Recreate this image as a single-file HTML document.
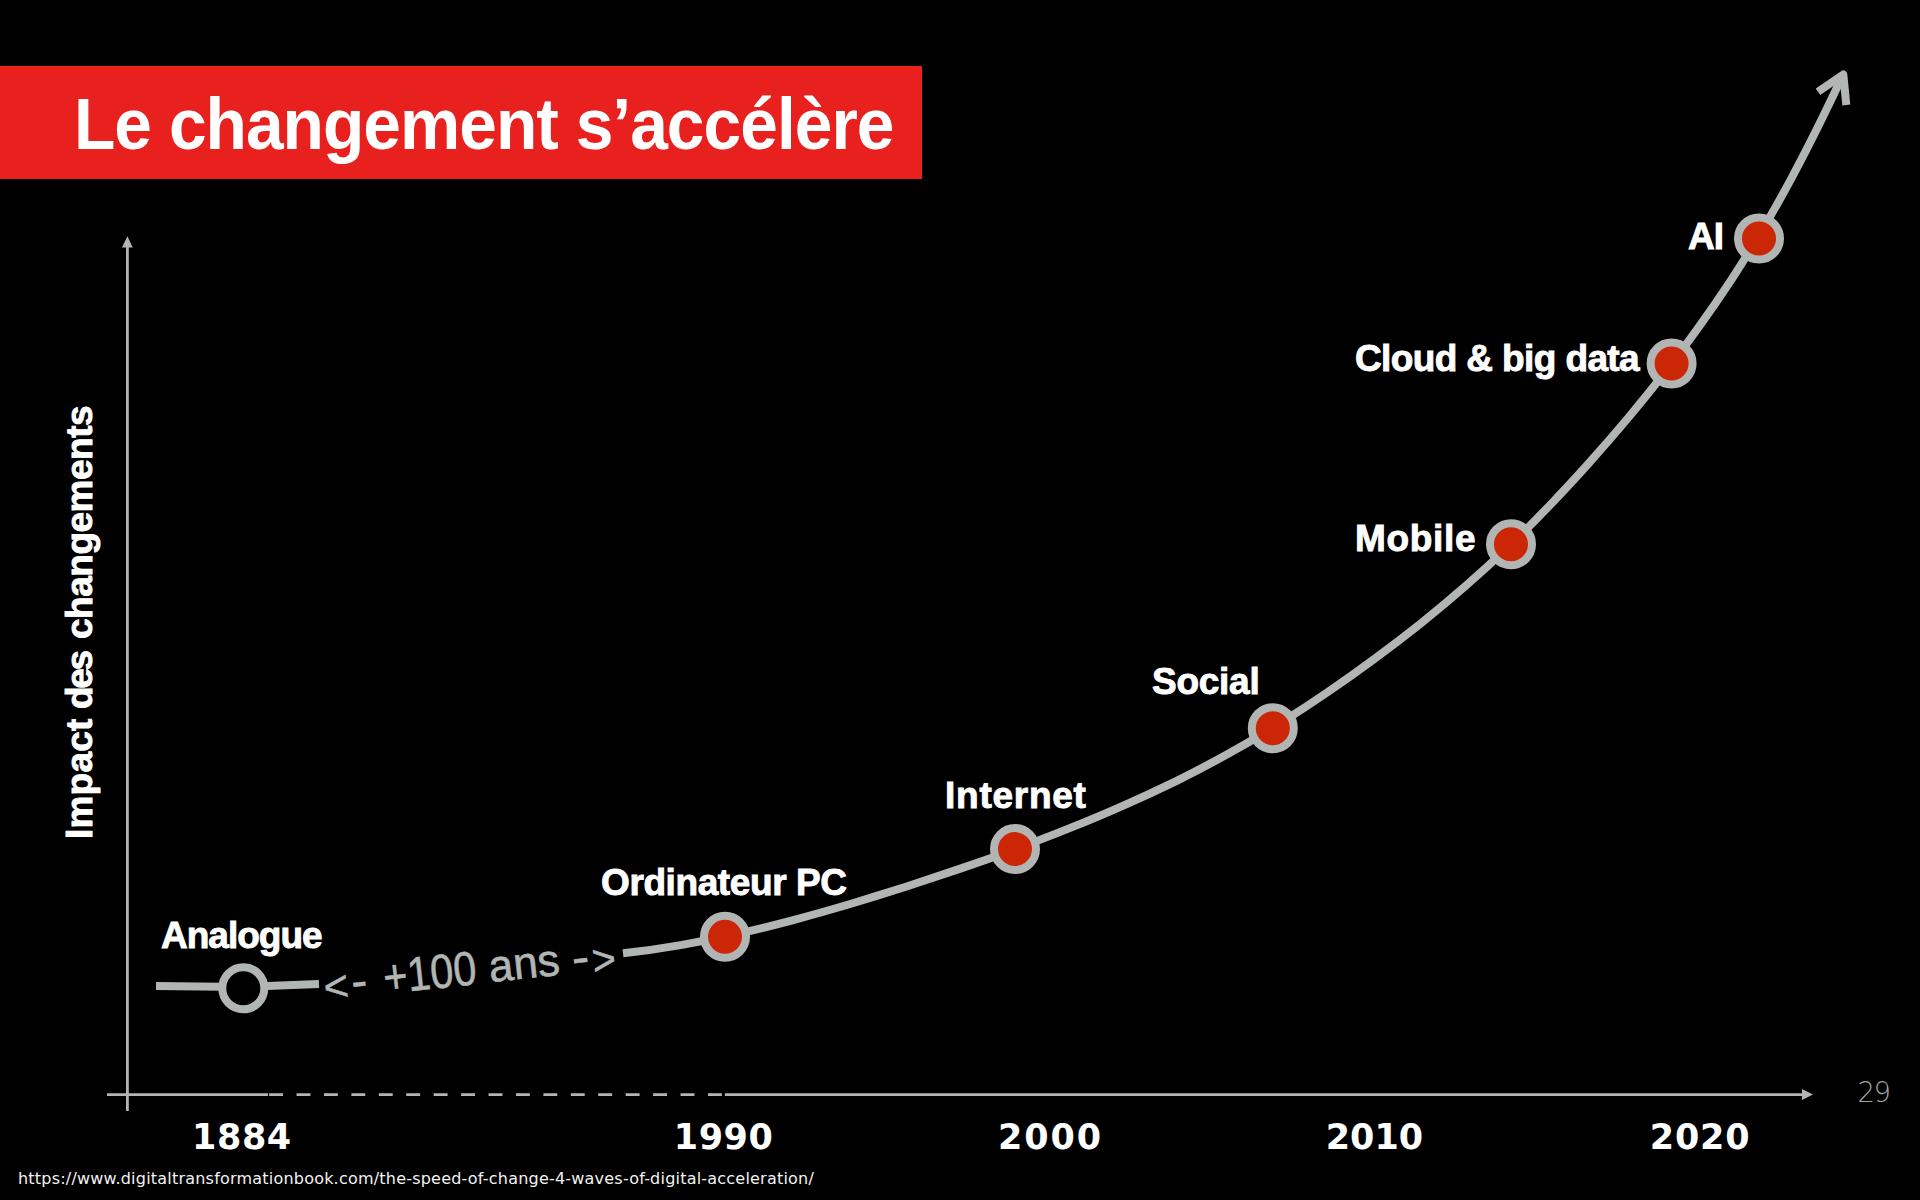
<!DOCTYPE html>
<html lang="fr">
<head>
<meta charset="utf-8">
<title>Le changement s’accélère</title>
<style>
html,body{margin:0;padding:0;background:#000;}
body{width:1920px;height:1200px;position:relative;overflow:hidden;font-family:"Liberation Sans",sans-serif;color:#fff;}
.banner{position:absolute;left:0;top:66px;width:922px;height:113px;background:#e8211f;}
.title{position:absolute;left:74px;top:84px;font-weight:bold;font-size:72px;line-height:80px;white-space:nowrap;letter-spacing:-1.03px;color:#fff;transform-origin:0 0;transform:scaleX(0.94);}
svg{position:absolute;left:0;top:0;}
.lbl{position:absolute;font-weight:bold;font-size:37px;line-height:40px;white-space:nowrap;color:#fff;-webkit-text-stroke:0.9px #fff;}
.yr{position:absolute;font-family:"DejaVu Sans","Liberation Sans",sans-serif;font-weight:bold;font-size:35px;line-height:40px;white-space:nowrap;color:#fff;}
.ylab{position:absolute;font-weight:bold;font-size:37px;line-height:40px;white-space:nowrap;color:#fff;-webkit-text-stroke:0.9px #fff;transform-origin:0 0;transform:rotate(-90deg);}
.url{position:absolute;left:18px;top:1168px;font-family:"DejaVu Sans","Liberation Sans",sans-serif;font-size:16px;line-height:22px;white-space:nowrap;color:#f2f2f2;letter-spacing:0.21px;}
.pn{position:absolute;left:1857.5px;top:1074.5px;font-family:"DejaVu Sans","Liberation Sans",sans-serif;font-weight:200;font-size:27.5px;line-height:34px;letter-spacing:-1.5px;color:#a4a4a4;white-space:nowrap;}
</style>
</head>
<body>
<div class="banner"></div>
<div class="title">Le changement s’accélère</div>
<svg width="1920" height="1200" viewBox="0 0 1920 1200">
  <line x1="127.4" y1="246" x2="127.4" y2="1111" stroke="#b4b4b4" stroke-width="2.8"/>
  <polygon points="127.4,236.2 122,247.5 132.8,247.5" fill="#b4b4b4"/>
  <line x1="107" y1="1094.6" x2="268" y2="1094.6" stroke="#b4b4b4" stroke-width="2.8"/>
  <line x1="269.1" y1="1094.6" x2="722" y2="1094.6" stroke="#b4b4b4" stroke-width="2.8" stroke-dasharray="13.9 13.53"/>
  <line x1="724.9" y1="1094.6" x2="1803" y2="1094.6" stroke="#b4b4b4" stroke-width="2.8"/>
  <polygon points="1813,1094.5 1802,1089 1802,1100" fill="#b4b4b4"/>
  <path d="M156,986 L243,987 L319,984" fill="none" stroke="#b1b5b3" stroke-width="8"/>
  <circle cx="243.3" cy="988.3" r="21" fill="#000" stroke="#b1b5b3" stroke-width="8"/>
  <path d="M623.0,953.3 C642.3,951.2 661.6,948.4 680.7,945.1 C699.8,941.8 718.8,938.0 737.7,933.7 C756.6,929.5 775.5,924.8 794.2,919.8 C813.0,914.8 831.6,909.5 850.2,904.0 C868.8,898.4 887.4,892.6 905.9,886.7 C924.4,880.7 942.8,874.6 961.1,868.4 C979.5,862.1 997.8,855.6 1016.0,848.9 C1034.2,842.1 1052.3,835.2 1070.3,827.9 C1088.2,820.7 1106.1,813.2 1123.9,805.3 C1141.6,797.5 1159.3,789.3 1176.7,780.8 C1194.1,772.2 1211.3,763.2 1228.2,753.8 C1245.2,744.4 1261.9,734.5 1278.3,724.3 C1294.8,714.1 1311.1,703.5 1327.1,692.5 C1343.2,681.6 1359.0,670.4 1374.6,658.8 C1390.3,647.3 1405.7,635.5 1420.9,623.4 C1436.0,611.3 1450.9,598.9 1465.5,586.1 C1480.1,573.3 1494.3,560.2 1508.3,546.8 C1522.3,533.4 1536.0,519.7 1549.4,505.7 C1562.9,491.7 1576.0,477.5 1589.0,463.0 C1601.9,448.6 1614.7,433.9 1627.2,419.0 C1639.6,404.2 1651.9,389.1 1663.8,373.8 C1675.8,358.5 1687.4,342.9 1698.7,327.2 C1710.0,311.4 1721.0,295.4 1731.7,279.2 C1742.3,262.9 1752.5,246.5 1762.4,229.8 C1772.3,213.1 1781.8,196.2 1791.0,179.1 C1800.2,162.0 1809.0,144.8 1817.7,127.4 C1826.3,110.0 1834.7,92.5 1843.0,75.0" fill="none" stroke="#b1b5b3" stroke-width="8"/>
  <path d="M1818,91.7 L1843.3,74.5 L1846.3,105" fill="none" stroke="#b1b5b3" stroke-width="8" stroke-linejoin="round"/>
  <circle cx="725.0" cy="936.7" r="21" fill="#cb2707" stroke="#b1b5b3" stroke-width="8"/>
  <circle cx="1015.0" cy="849.1" r="21" fill="#cb2707" stroke="#b1b5b3" stroke-width="8"/>
  <circle cx="1272.8" cy="728.3" r="21" fill="#cb2707" stroke="#b1b5b3" stroke-width="8"/>
  <circle cx="1511.0" cy="544.2" r="21" fill="#cb2707" stroke="#b1b5b3" stroke-width="8"/>
  <circle cx="1671.6" cy="363.5" r="21" fill="#cb2707" stroke="#b1b5b3" stroke-width="8"/>
  <circle cx="1759.0" cy="238.5" r="21" fill="#cb2707" stroke="#b1b5b3" stroke-width="8"/>
  <g transform="translate(326.7,999.6) rotate(-6.08)" fill="#b1b5b3" stroke="#b1b5b3" stroke-width="0.6" font-family="Liberation Sans, sans-serif">
    <text transform="translate(0,2.5) scale(0.99,1)" x="-1.8" y="0" font-size="43">&lt;</text>
    <text transform="translate(28.2,1)" x="-2" y="0" font-size="48">-</text>
    <text transform="translate(60.3,0.5) scale(0.864,1)" x="-2" y="0" font-size="48">+100</text>
    <text transform="translate(166.5,0) scale(0.98,1)" x="-2" y="0" font-size="45">ans</text>
    <text transform="translate(250.1,1) scale(1.1,1)" x="-2" y="0" font-size="48">-</text>
    <text transform="translate(269.8,4) scale(0.94,1)" x="-1.8" y="0" font-size="43">&gt;</text>
  </g>
</svg>
<div class="ylab" style="left:60px;top:838.7px;letter-spacing:0.2px;">Impact</div>
<div class="ylab" style="left:60px;top:709px;letter-spacing:-2.4px;">des</div>
<div class="ylab" style="left:60px;top:639px;letter-spacing:-0.49px;">changements</div>
<div class="lbl" style="left:161px;top:916.3px;letter-spacing:-1px;">Analogue</div>
<div class="lbl" style="left:601px;top:862.5px;letter-spacing:-0.4px;">Ordinateur PC</div>
<div class="lbl" style="left:945px;top:776px;letter-spacing:0.75px;">Internet</div>
<div class="lbl" style="left:1152px;top:662px;letter-spacing:-0.26px;">Social</div>
<div class="lbl" style="left:1355px;top:519px;letter-spacing:0.68px;">Mobile</div>
<div class="lbl" style="left:1355px;top:339.3px;letter-spacing:-0.62px;">Cloud &amp; big data</div>
<div class="lbl" style="left:1688px;top:217px;letter-spacing:-1px;">AI</div>
<div class="yr" style="left:192px;top:1116.5px;letter-spacing:0.6px;">1884</div>
<div class="yr" style="left:673.7px;top:1116.5px;letter-spacing:0.6px;">1990</div>
<div class="yr" style="left:998px;top:1116.5px;letter-spacing:1.9px;">2000</div>
<div class="yr" style="left:1325.7px;top:1116.5px;">2010</div>
<div class="yr" style="left:1649.7px;top:1116.5px;letter-spacing:0.85px;">2020</div>
<div class="pn">29</div>
<div class="url">https://www.digitaltransformationbook.com/the-speed-of-change-4-waves-of-digital-acceleration/</div>
</body>
</html>
